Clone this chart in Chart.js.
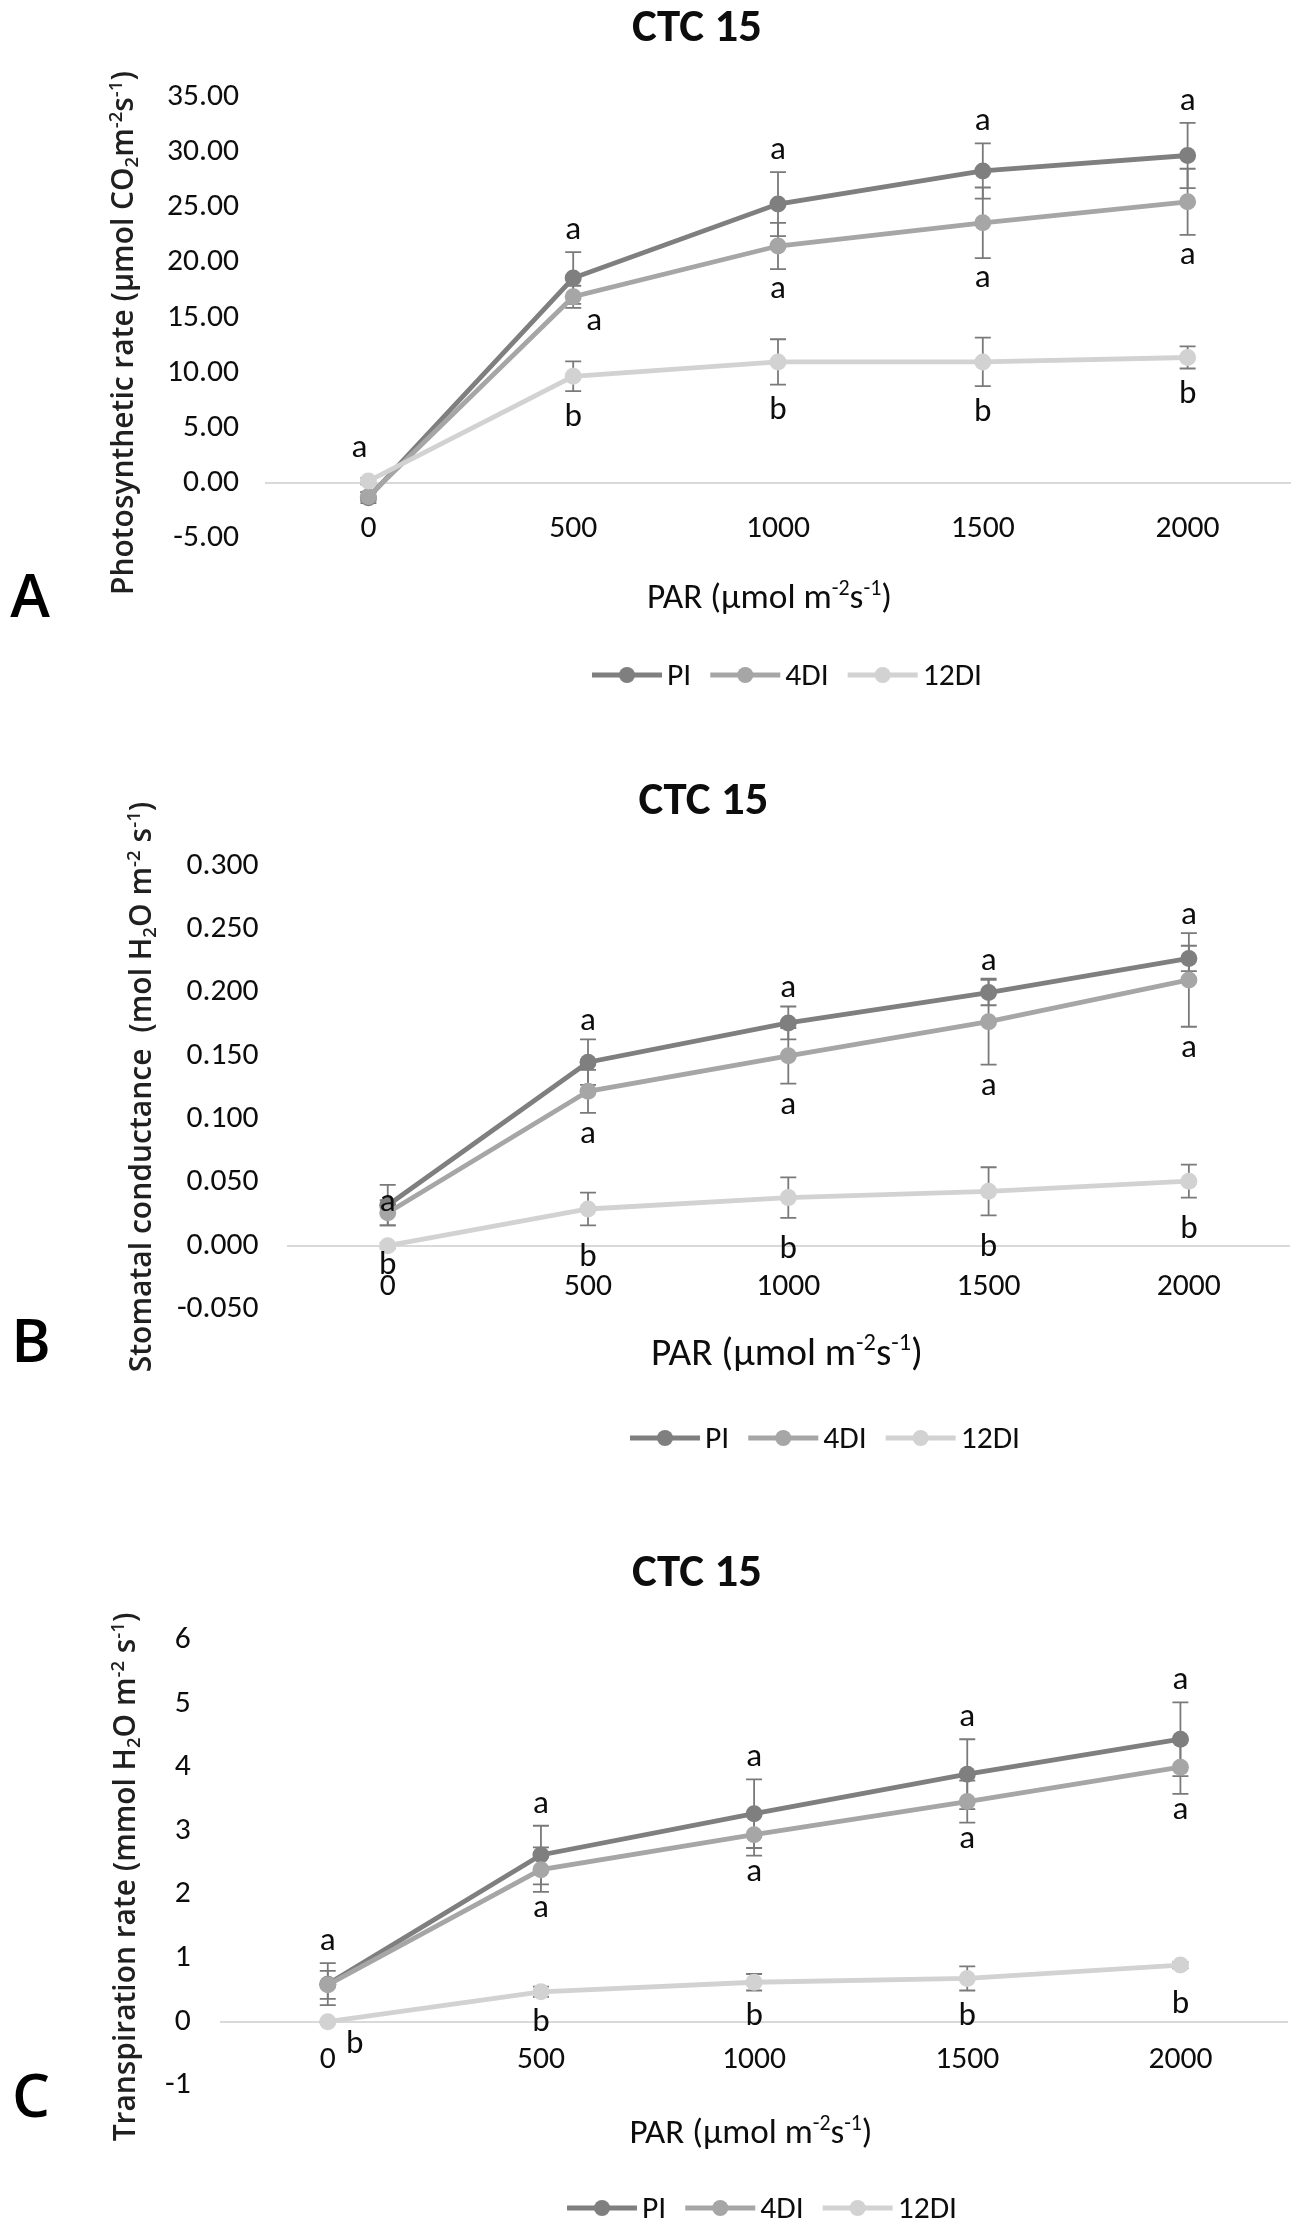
<!DOCTYPE html>
<html>
<head>
<meta charset="utf-8">
<script src="https://cdn.jsdelivr.net/npm/chart.js@4.4.1/dist/chart.umd.min.js"></script>
<style>
html,body{margin:0;padding:0;background:#ffffff;}
#wrap{position:relative;width:1299px;height:2230px;background:#ffffff;}
.panel{position:absolute;left:0;width:1299px;}
</style>
</head>
<body>
<div id="wrap">
  <div class="panel" style="top:0px;height:740px"><canvas id="cA"></canvas></div>
  <div class="panel" style="top:740px;height:740px"><canvas id="cB"></canvas></div>
  <div class="panel" style="top:1480px;height:750px"><canvas id="cC"></canvas></div>
</div>
<script>
// ---------------- DATA ----------------
const parLevels = ['0', '500', '1000', '1500', '2000'];
const seriesNames = ['PI', '4DI', '12DI'];
const chartTitle = 'CTC 15';

// A – Photosynthetic rate
const photoPI      = [-1.3, 18.6, 25.3, 28.3, 29.7];
const photoPIErr   = [0.5, 2.35, 2.9, 2.5, 2.95];
const photo4DI     = [-1.2, 16.9, 21.5, 23.6, 25.5];
const photo4DIErr  = [0.4, 1.0, 2.1, 3.2, 3.0];
const photo12DI    = [0.2, 9.7, 11.0, 11.0, 11.4];
const photo12DIErr = [0.3, 1.35, 2.05, 2.2, 1.0];
const photoLetTop  = ['a', 'a', 'a', 'a', 'a'];
const photoLet4DI  = ['', 'a', 'a', 'a', 'a'];
const photoLet12DI = ['', 'b', 'b', 'b', 'b'];

// B – Stomatal conductance
const condPI      = [0.032, 0.145, 0.176, 0.200, 0.227];
const condPIErr   = [0.016, 0.018, 0.013, 0.010, 0.010];
const cond4DI     = [0.026, 0.122, 0.150, 0.177, 0.210];
const cond4DIErr  = [0.010, 0.017, 0.022, 0.034, 0.037];
const cond12DI    = [0.000, 0.029, 0.038, 0.043, 0.051];
const cond12DIErr = [0.002, 0.013, 0.016, 0.019, 0.013];
const condLetTop  = ['a', 'a', 'a', 'a', 'a'];
const condLet4DI  = ['', 'a', 'a', 'a', 'a'];
const condLet12DI = ['b', 'b', 'b', 'b', 'b'];

// C – Transpiration rate
const transPI      = [0.59, 2.62, 3.27, 3.89, 4.44];
const transPIErr   = [0.33, 0.46, 0.54, 0.55, 0.58];
const trans4DI     = [0.58, 2.39, 2.94, 3.46, 4.00];
const trans4DIErr  = [0.22, 0.35, 0.33, 0.33, 0.42];
const trans12DI    = [0.00, 0.47, 0.62, 0.68, 0.89];
const trans12DIErr = [0.02, 0.08, 0.13, 0.19, 0.05];
const transLetTop  = ['a', 'a', 'a', 'a', 'a'];
const transLet4DI  = ['', 'a', 'a', 'a', 'a'];
const transLet12DI = ['b', 'b', 'b', 'b', 'b'];

// axis texts (rich text segments)
const parTitle = [{t:'PAR (µmol m'}, {t:'-2', sup:true}, {t:'s'}, {t:'-1', sup:true}, {t:')'}];
const photoYTitle = [{t:'Photosynthetic rate (µmol CO'}, {t:'2', sub:true}, {t:'m'}, {t:'-2', sup:true}, {t:'s'}, {t:'-1', sup:true}, {t:')'}];
const condYTitle  = [{t:'Stomatal conductance  (mol H'}, {t:'2', sub:true}, {t:'O m'}, {t:'-2', sup:true}, {t:' s'}, {t:'-1', sup:true}, {t:')'}];
const transYTitle = [{t:'Transpiration rate (mmol H'}, {t:'2', sub:true}, {t:'O m'}, {t:'-2', sup:true}, {t:' s'}, {t:'-1', sup:true}, {t:')'}];

// ---------------- STYLE ----------------
const FONT = 'Carlito, Lato, "Noto Sans", sans-serif';
const YFONT = '"Open Sans", "Noto Sans", sans-serif';
const LETTER_FONT = '"Open Sans", "Liberation Sans", sans-serif';
const TEXT = '#0d0d0d';
const COLORS = ['#7f7f7f', '#a6a6a6', '#d2d2d2'];
const ERR_COLOR = '#7a7a7a';
const LINE_W = 4.8;
const PT_R = 8.5;

const measCtx = document.createElement('canvas').getContext('2d');
function partsWidth(ctx, parts, size, family, weight) {
  let w = 0;
  for (const p of parts) {
    ctx.font = weight + ' ' + ((p.sup || p.sub) ? size * 0.62 : size) + 'px ' + family;
    w += ctx.measureText(p.t).width;
  }
  return w;
}
function fitSize(parts, family, weight, target) {
  return 100 * target / partsWidth(measCtx, parts, 100, family, weight);
}
function drawParts(ctx, parts, cx, cy, size, family, weight, color, rotate) {
  const w = partsWidth(ctx, parts, size, family, weight);
  ctx.save();
  ctx.translate(cx, cy);
  if (rotate) ctx.rotate(-Math.PI / 2);
  ctx.fillStyle = color;
  ctx.textAlign = 'left';
  ctx.textBaseline = 'alphabetic';
  ctx.font = weight + ' ' + size + 'px ' + family;
  const m = ctx.measureText(parts.filter(p => !p.sup && !p.sub).map(p => p.t).join(''));
  const base = (m.actualBoundingBoxAscent - m.actualBoundingBoxDescent) / 2;
  let x = -w / 2;
  for (const p of parts) {
    const s = (p.sup || p.sub) ? size * 0.62 : size;
    ctx.font = weight + ' ' + s + 'px ' + family;
    const dy = p.sup ? -size * 0.36 : (p.sub ? size * 0.17 : 0);
    ctx.fillText(p.t, x, base + dy);
    x += ctx.measureText(p.t).width;
  }
  ctx.restore();
}
function drawCentered(ctx, text, cx, cy, size, family, weight, color) {
  ctx.save();
  ctx.font = weight + ' ' + size + 'px ' + family;
  ctx.fillStyle = color;
  ctx.textAlign = 'center';
  ctx.textBaseline = 'alphabetic';
  const m = ctx.measureText(text);
  ctx.fillText(text, cx, cy + (m.actualBoundingBoxAscent - m.actualBoundingBoxDescent) / 2);
  ctx.restore();
}

const TICK_SIZE = fitSize([{t:'35.00'}], FONT, 400, 72);
const LET_SIZE = TICK_SIZE * 1.05;
const TITLE_SIZE = fitSize([{t:chartTitle}], FONT, 700, 130);

// ---------------- PLUGIN ----------------
const decor = {
  id: 'decor',
  beforeDatasetsDraw(chart, args, o) {
    const ctx = chart.ctx, xs = chart.scales.x, ys = chart.scales.y;
    ctx.save();
    ctx.strokeStyle = ERR_COLOR;
    ctx.lineWidth = 1.8;
    chart.data.datasets.forEach(ds => {
      ds.data.forEach((v, i) => {
        const e = ds.errors[i];
        if (!e) return;
        const x = xs.getPixelForValue(i);
        const y1 = ys.getPixelForValue(v + e), y2 = ys.getPixelForValue(v - e);
        ctx.beginPath();
        ctx.moveTo(x, y1); ctx.lineTo(x, y2);
        ctx.moveTo(x - 8, y1); ctx.lineTo(x + 8, y1);
        ctx.moveTo(x - 8, y2); ctx.lineTo(x + 8, y2);
        ctx.stroke();
      });
    });
    ctx.restore();
  },
  afterDraw(chart, args, o) {
    const ctx = chart.ctx, xs = chart.scales.x, ys = chart.scales.y;
    const d = chart.data.datasets;
    const L = o.letters;
    const nudge = (k) => (o.nudges && o.nudges[k]) ? o.nudges[k] : [0, 0];
    // significance letters
    for (let i = 0; i < chart.data.labels.length; i++) {
      const x = xs.getPixelForValue(i);
      const topV = Math.max(d[0].data[i] + d[0].errors[i], d[1].data[i] + d[1].errors[i]);
      if (L.top[i]) {
        const n = nudge('top' + i);
        drawCentered(ctx, L.top[i], x + n[0], ys.getPixelForValue(topV) - o.gaps[0] + n[1], LET_SIZE, FONT, 400, TEXT);
      }
      if (L.mid[i]) {
        const n = nudge('mid' + i);
        drawCentered(ctx, L.mid[i], x + n[0], ys.getPixelForValue(d[1].data[i] - d[1].errors[i]) + o.gaps[1] + n[1], LET_SIZE, FONT, 400, TEXT);
      }
      if (L.low[i]) {
        const n = nudge('low' + i);
        drawCentered(ctx, L.low[i], x + n[0], ys.getPixelForValue(d[2].data[i] - d[2].errors[i]) + o.gaps[2] + n[1], LET_SIZE, FONT, 400, TEXT);
      }
    }
    // chart title
    drawParts(ctx, [{t: o.title}], o.titlePos[0], o.titlePos[1], TITLE_SIZE, FONT, 700, TEXT, false);
    // y axis title
    const yts = fitSize(o.yTitle, YFONT, 600, o.yTitleBox[2]);
    drawParts(ctx, o.yTitle, o.yTitleBox[0], o.yTitleBox[1], yts, YFONT, 600, '#202020', true);
    // x axis title
    const xts = fitSize(o.xTitle, FONT, 400, o.xTitleBox[2]);
    drawParts(ctx, o.xTitle, o.xTitleBox[0], o.xTitleBox[1], xts, FONT, 400, TEXT, false);
    // panel letter
    drawCentered(ctx, o.panel[0], o.panel[1], o.panel[2], 60, LETTER_FONT, 600, '#000000');
    // legend
    let lx = o.legendPos[0];
    const ly = o.legendPos[1];
    ctx.save();
    d.forEach(ds => {
      ctx.strokeStyle = ds.borderColor;
      ctx.lineWidth = LINE_W;
      ctx.beginPath(); ctx.moveTo(lx, ly); ctx.lineTo(lx + 70, ly); ctx.stroke();
      ctx.fillStyle = ds.pointBackgroundColor;
      ctx.beginPath(); ctx.arc(lx + 35, ly, 8, 0, Math.PI * 2); ctx.fill();
      ctx.font = '400 ' + TICK_SIZE + 'px ' + FONT;
      const m = ctx.measureText(ds.label);
      ctx.fillStyle = TEXT;
      ctx.textAlign = 'left';
      ctx.textBaseline = 'alphabetic';
      ctx.fillText(ds.label, lx + 75, ly + (m.actualBoundingBoxAscent - m.actualBoundingBoxDescent) / 2);
      lx += 75 + m.width + 19;
    });
    ctx.restore();
  }
};

function makeChart(cfg) {
  const datasets = cfg.series.map((s, k) => ({
    label: seriesNames[k],
    data: s[0],
    errors: s[1],
    borderColor: COLORS[k],
    backgroundColor: COLORS[k],
    pointBackgroundColor: COLORS[k],
    pointBorderColor: COLORS[k],
    pointBorderWidth: 0,
    pointRadius: PT_R,
    pointHoverRadius: PT_R,
    borderWidth: LINE_W,
    tension: 0,
    order: 3 - k
  }));
  return new Chart(document.getElementById(cfg.id), {
    type: 'line',
    data: { labels: parLevels, datasets },
    plugins: [decor],
    options: {
      responsive: true,
      maintainAspectRatio: false,
      animation: false,
      events: [],
      layout: { padding: { left: 0, right: 1299 - cfg.plot[1], top: cfg.plot[2], bottom: cfg.H - cfg.plot[3] } },
      plugins: {
        legend: { display: false },
        title: { display: false },
        tooltip: { enabled: false },
        decor: {
          letters: cfg.letters,
          gaps: cfg.gaps,
          nudges: cfg.nudges,
          title: chartTitle,
          titlePos: cfg.titlePos,
          yTitle: cfg.yTitle,
          yTitleBox: cfg.yTitleBox,
          xTitle: parTitle,
          xTitleBox: cfg.xTitleBox,
          panel: cfg.panel,
          legendPos: cfg.legendPos
        }
      },
      scales: {
        x: {
          type: 'category',
          offset: true,
          position: { y: 0 },
          grid: { display: false, drawTicks: false },
          border: { display: true, color: '#d9d9d9', width: 2 },
          ticks: { color: TEXT, font: { family: FONT, size: TICK_SIZE }, padding: cfg.xLabelOff - 0.6 * TICK_SIZE, maxRotation: 0, autoSkip: false }
        },
        y: {
          type: 'linear',
          min: cfg.y[0], max: cfg.y[1],
          grid: { display: false, drawTicks: false },
          border: { display: false },
          ticks: {
            stepSize: cfg.y[2],
            color: TEXT,
            font: { family: FONT, size: TICK_SIZE },
            padding: cfg.yPad,
            callback: (v) => {
              const n = Math.abs(Number(v)) < 1e-9 ? 0 : Number(v);
              return n.toFixed(cfg.y[3]);
            }
          },
          afterFit: (scale) => { scale.width = cfg.plot[0]; }
        }
      }
    }
  });
}

makeChart({
  id: 'cA', H: 740, plot: [266, 1290, 97, 538.5], y: [-5, 35, 5, 2], yPad: 27, xLabelOff: 46,
  series: [[photoPI, photoPIErr], [photo4DI, photo4DIErr], [photo12DI, photo12DIErr]],
  letters: { top: photoLetTop, mid: photoLet4DI, low: photoLet12DI },
  gaps: [21, 21, 23],
  nudges: { top0: [-9, -22], mid1: [21, -7] },
  titlePos: [697, 26], yTitle: photoYTitle, yTitleBox: [125, 333, 524],
  xTitleBox: [769.5, 598, 245], panel: ['A', 30, 595], legendPos: [592, 675]
});
makeChart({
  id: 'cB', H: 740, plot: [287.6, 1289, 126, 569], y: [-0.05, 0.3, 0.05, 3], yPad: 29, xLabelOff: 41,
  series: [[condPI, condPIErr], [cond4DI, cond4DIErr], [cond12DI, cond12DIErr]],
  letters: { top: condLetTop, mid: condLet4DI, low: condLet12DI },
  gaps: [17, 22, 29],
  nudges: { top0: [0, 35], low0: [0, -15] },
  titlePos: [703.5, 59], yTitle: condYTitle, yTitleBox: [142, 347, 571],
  xTitleBox: [787, 613, 272], panel: ['B', 31, 600], legendPos: [630, 698]
});
makeChart({
  id: 'cC', H: 750, plot: [221.2, 1287, 160, 605.3], y: [-1, 6, 1, 0], yPad: 30.5, xLabelOff: 38.3,
  series: [[transPI, transPIErr], [trans4DI, trans4DIErr], [trans12DI, trans12DIErr]],
  letters: { top: transLetTop, mid: transLet4DI, low: transLet12DI },
  gaps: [21, 17, 23],
  nudges: { low0: [27, -4], low4: [0, 10] },
  titlePos: [697, 91], yTitle: transYTitle, yTitleBox: [127, 397, 529],
  xTitleBox: [751, 653, 243], panel: ['C', 31, 615], legendPos: [567, 728]
});
</script>
</body>
</html>
